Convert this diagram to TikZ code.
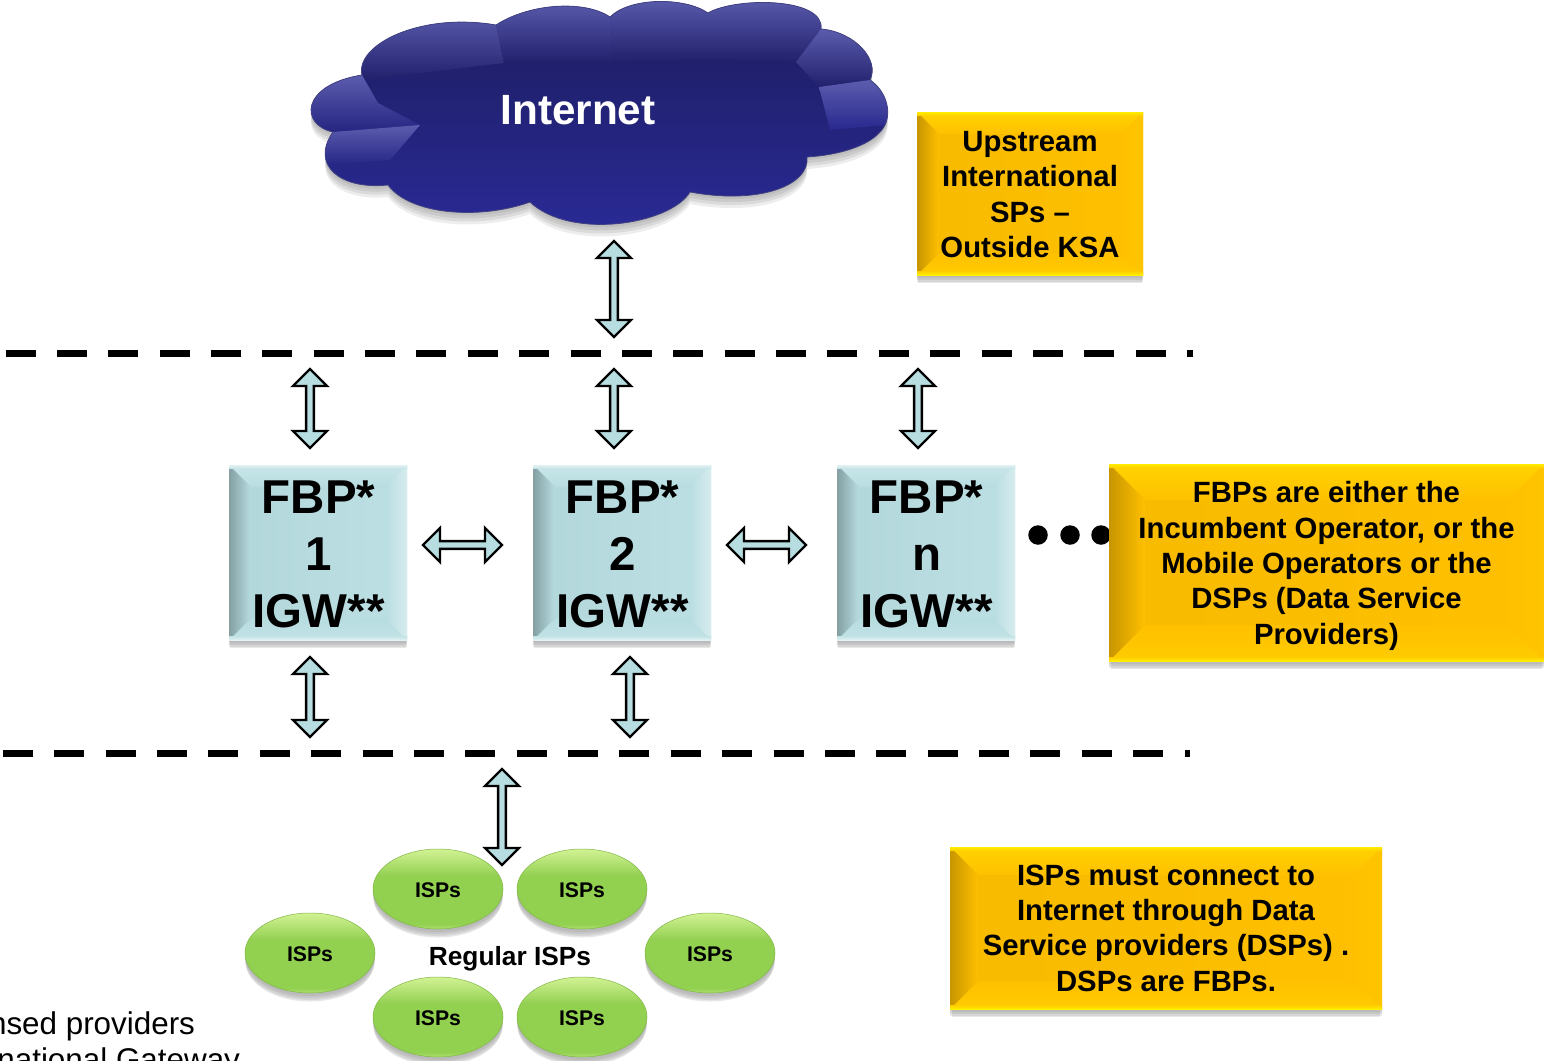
\documentclass[tikz,border=0pt]{standalone}
\usepackage{fontspec}
\setmainfont{Liberation Sans}
\usetikzlibrary{shapes.geometric,shapes.arrows,shadows,calc}
\definecolor{aqua}{HTML}{B7DDE1}
\definecolor{gold}{HTML}{FFC000}
\definecolor{leaf}{HTML}{92D050}
\definecolor{leafhi}{HTML}{D2F294}
\definecolor{leafrim}{HTML}{AEE06E}
\definecolor{navytop}{HTML}{20206C}
\definecolor{navybot}{HTML}{2A2A98}
\definecolor{navyhi}{HTML}{5C5CAE}
\pgfdeclareverticalshading{ispshade}{100bp}{color(0bp)=(leafrim); color(25bp)=(leafrim); color(28bp)=(leaf); color(58bp)=(leaf); color(75bp)=(leafhi); color(100bp)=(leafhi)}
\pgfdeclareverticalshading{cloudbase}{100bp}{color(0bp)=(navybot); color(25bp)=(navybot); color(62bp)=(navytop); color(100bp)=(navytop)}
% depth, top edge, left edge, right edge, bottom edge, base
\newcommand{\bevelfaces}[6]{%
  \coordinate (bnw) at (path picture bounding box.north west);
  \coordinate (bne) at (path picture bounding box.north east);
  \coordinate (bsw) at (path picture bounding box.south west);
  \coordinate (bse) at (path picture bounding box.south east);
  \coordinate (inw) at ($(bnw)+(#1,#1)$);
  \coordinate (ine) at ($(bne)+(-#1,#1)$);
  \coordinate (isw) at ($(bsw)+(#1,-#1)$);
  \coordinate (ise) at ($(bse)+(-#1,-#1)$);
  \shade[top color=#2!45!#6,bottom color=#6] (bnw)--(bne)--(ine)--(inw)--cycle;
  \shade[top color=#6,bottom color=#5!25!#6] (bsw)--(bse)--(ise)--(isw)--cycle;
  \shade[left color=#3,right color=#6] (bnw)--(inw)--(isw)--(bsw)--cycle;
  \shade[left color=#6,right color=#4] (bne)--(ine)--(ise)--(bse)--cycle;
  \shade[top color=#2,bottom color=#2!45!#6] (bnw)--(bne)--($(bne)+(0,3)$)--($(bnw)+(0,3)$)--cycle;
  \shade[top color=#5!25!#6,bottom color=#5] ($(bsw)+(0,-4)$)--($(bse)+(0,-4)$)--(bse)--(bsw)--cycle;
}
\tikzset{
  softshadow/.style={
    general shadow={fill=black,opacity=.05,shadow yshift=-3pt},
    general shadow={fill=black,opacity=.07,shadow yshift=-5pt},
    general shadow={fill=black,opacity=.08,shadow yshift=-7pt},
    general shadow={fill=black,opacity=.09,shadow yshift=-9pt,shadow scale=.99}},
  bevd/.store in=\bevdepth, bevd=22,
  allbox/.style={rectangle,inner sep=0pt,outer sep=0pt,softshadow},
  fbpbox/.style={allbox,minimum width=178pt,minimum height=175pt,
    left color=aqua!97!black,right color=aqua!92!white,
    path picture={\bevelfaces{22}{aqua!40!white}{aqua!72!black}{aqua!55!white}{aqua!40!white}{aqua}}},
  fbptext/.style={inner sep=0pt,outer sep=0pt,align=center,font=\fontsize{47.5}{57}\selectfont\bfseries},
  notebox/.style={allbox,
    left color=gold!97!black,right color=gold,
    path picture={\bevelfaces{\bevdepth}{yellow!70!gold}{gold!78!black}{gold!92!yellow}{yellow!75!gold}{gold}}},
  notetext/.style={inner sep=0pt,outer sep=0pt,align=center,font=\fontsize{29.3}{35.3}\selectfont\bfseries},
  ispnode/.style={ellipse,minimum width=130pt,minimum height=80pt,inner sep=0pt,outer sep=0pt,
    shading=ispshade,draw=leaf!88!black,line width=.5pt,softshadow},
  isptext/.style={inner sep=0pt,outer sep=0pt,font=\fontsize{21.2}{25}\selectfont\bfseries},
  dbl/.style={double arrow,draw=black,fill=aqua,line width=2.4pt,inner sep=0pt,outer sep=0pt,
    minimum width=34pt,double arrow head extend=4pt,double arrow tip angle=90},
  tierline/.style={line width=7pt,dash pattern=on 30pt off 21.37pt},
  dotnode/.style={circle,minimum size=19.5pt,inner sep=0pt,fill=black},
  plain/.style={inner sep=0pt,outer sep=0pt}
}
\newcommand{\cloudoutline}{(362,75) .. controls (355,45) and (420,12) .. (496,25)
  .. controls (530,3) and (585,0) .. (610,17)
  .. controls (630,-3) and (685,-3) .. (708,13)
  .. controls (735,-3) and (825,-3) .. (821,29)
  .. controls (855,32) and (880,60) .. (870,80)
  .. controls (885,90) and (892,110) .. (885,125)
  .. controls (875,145) and (840,155) .. (807,157)
  .. controls (810,185) and (760,205) .. (690,192)
  .. controls (670,225) and (570,240) .. (530,202)
  .. controls (480,220) and (410,215) .. (388,185)
  .. controls (340,190) and (310,165) .. (333,132)
  .. controls (300,125) and (300,85) .. (362,75) -- cycle}
\begin{document}
\begin{tikzpicture}[x=1pt,y=-1pt]
\useasboundingbox (0,0) rectangle (1544,1060);
\fill[white] (0,0) rectangle (1544,1060);
% cloud
\foreach \s/\o in {3/.06,6/.07,9/.08,12/.07}{\fill[black,opacity=\o,yshift=-\s pt] \cloudoutline;}
\shade[shading=cloudbase] \cloudoutline;
\begin{scope}
  \clip \cloudoutline;
  \tikzset{lobe/.style={top color=navyhi,middle color=navyhi!30!navytop,bottom color=navytop}}
  \shade[lobe] (362,75) .. controls (355,45) and (420,12) .. (496,25) -- (504,63) -- (365,80) -- cycle;
  \shade[lobe] (496,25) .. controls (530,3) and (585,0) .. (610,17) -- (614,62) -- (504,63) -- cycle;
  \shade[lobe] (610,17) .. controls (630,-3) and (685,-3) .. (708,13) -- (708,60) -- (614,62) -- cycle;
  \shade[lobe] (708,13) .. controls (735,-3) and (825,-3) .. (821,29) -- (796,62) -- (708,60) -- cycle;
  \shade[lobe] (821,29) .. controls (855,32) and (880,60) .. (870,80) -- (819,87) -- (796,62) -- cycle;
  \shade[top color=navyhi,bottom color=navybot!78!navytop] (870,80) .. controls (885,90) and (892,110) .. (887,125) -- (830,130) -- (819,87) -- cycle;
  \shade[top color=navyhi,bottom color=navybot!50!navytop] (362,75) .. controls (300,85) and (300,125) .. (333,132) -- (420,125) -- (378,103) -- cycle;
  \shade[top color=navyhi,bottom color=navybot!60!navytop] (333,132) .. controls (318,140) and (318,155) .. (322,165) -- (390,160) -- (420,125) -- cycle;
\end{scope}
\draw[navytop!85!white,line width=.8pt] \cloudoutline;
\node[plain,text=white,font=\fontsize{42.3}{50}\selectfont\bfseries] (inet) at (578,110) {Internet};
% tier lines
\coordinate (t1a) at (5.5,353); \coordinate (t1b) at (1193,353);
\coordinate (t2a) at (3,753); \coordinate (t2b) at (1190,753);
\draw[tierline] (t1a) -- (t1b);
\draw[tierline] (t2a) -- (t2b);
% dots
\node[dotnode] (d1) at (1038,535) {};
\node[dotnode] (d2) at (1070,535) {};
\node[dotnode] (d3) at (1101,535) {};
% FBP boxes
\node[fbpbox,label={[fbptext,xshift=.5pt,yshift=-2pt]center:{FBP*\\1\\IGW**}}] (f1) at (318,552.5) {};
\node[fbpbox,label={[fbptext,xshift=.5pt,yshift=-2pt]center:{FBP*\\2\\IGW**}}] (f2) at (622,552.5) {};
\node[fbpbox,label={[fbptext,xshift=.5pt,yshift=-2pt]center:{FBP*\\n\\IGW**}}] (f3) at (926,552.5) {};
% notes
\node[notebox,bevd=22,minimum width=226pt,minimum height=163pt,label={[notetext,yshift=-1pt]center:{Upstream\\International\\SPs –\\Outside KSA}}] (n1) at (1030,193.5) {};
\node[notebox,bevd=36,minimum width=435pt,minimum height=197pt,label={[notetext,yshift=-3.5pt]center:{FBPs are either the\\Incumbent Operator, or the\\Mobile Operators or the\\DSPs (Data Service\\Providers)}}] (n2) at (1326.5,562.5) {};
\node[notebox,bevd=28,minimum width=432pt,minimum height=162pt,label={[notetext]center:{ISPs must connect to\\Internet through Data\\Service providers (DSPs) .\\DSPs are FBPs.}}] (n3) at (1166,928) {};
% ISPs
\node[ispnode,label={[isptext,yshift=-1pt]center:ISPs}] (i1) at (438,889) {};
\node[ispnode,label={[isptext,yshift=-1pt]center:ISPs}] (i2) at (582,889) {};
\node[ispnode,label={[isptext,yshift=-1pt]center:ISPs}] (i3) at (310,953) {};
\node[ispnode,label={[isptext,yshift=-1pt]center:ISPs}] (i4) at (710,953) {};
\node[ispnode,label={[isptext,yshift=-1pt]center:ISPs}] (i5) at (438,1017) {};
\node[ispnode,label={[isptext,yshift=-1pt]center:ISPs}] (i6) at (582,1017) {};
\node[plain,font=\fontsize{26.3}{30}\selectfont\bfseries] (reg) at (510,959) {Regular ISPs};
% block arrows
\node[dbl,rotate=90,minimum height=96pt] (a0) at (614,289) {};
\node[dbl,rotate=90,minimum height=79pt] (a1) at (310,408.5) {};
\node[dbl,rotate=90,minimum height=79pt] (a2) at (614,408.5) {};
\node[dbl,rotate=90,minimum height=79pt] (a3) at (918,408.5) {};
\node[dbl,rotate=90,minimum height=80pt] (a4) at (310,697) {};
\node[dbl,rotate=90,minimum height=80pt] (a5) at (630,697) {};
\node[dbl,rotate=90,minimum height=96pt] (a6) at (502,817) {};
\node[dbl,minimum height=79pt] (a7) at (462.5,545) {};
\node[dbl,minimum height=79pt] (a8) at (766.5,545) {};
% footnote fragments
\node[plain,anchor=base east,font=\fontsize{31.4}{36}\selectfont] (fn1) at (195,1034) {nsed providers};
\node[plain,anchor=base east,font=\fontsize{31.4}{36}\selectfont] (fn2) at (240,1070) {national Gateway};
\end{tikzpicture}
\end{document}
